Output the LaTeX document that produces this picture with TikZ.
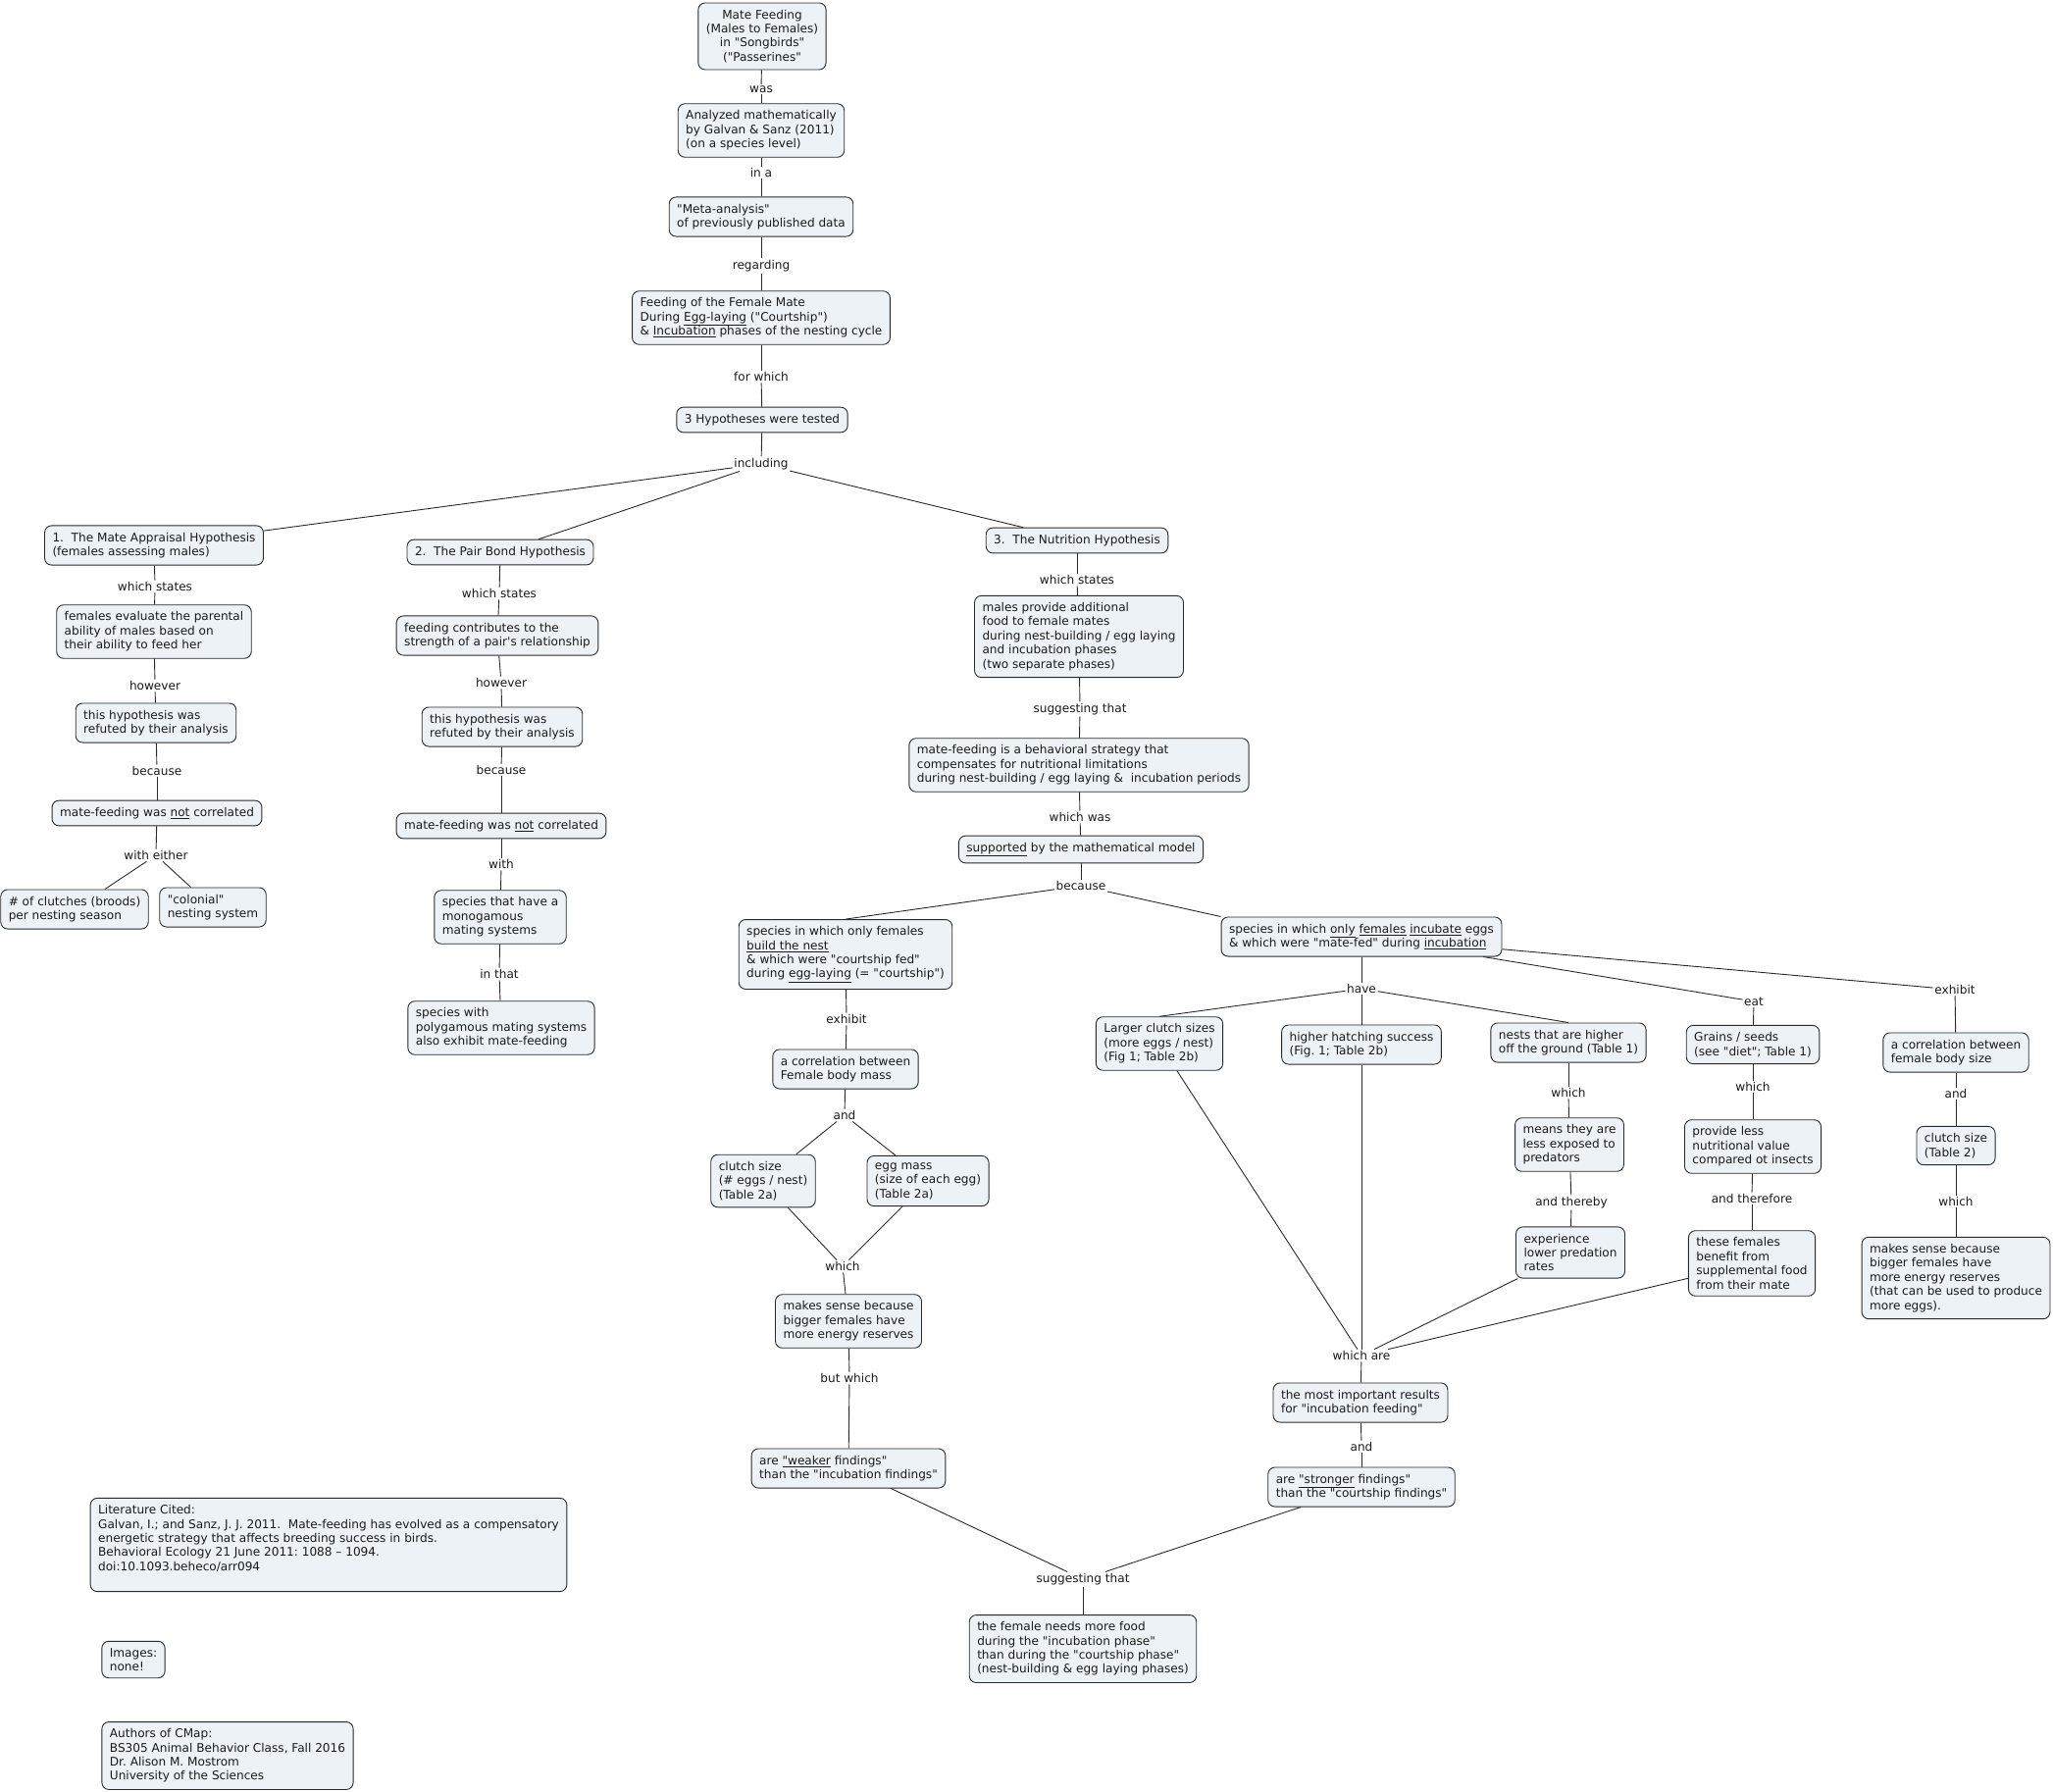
\documentclass[tikz,border=0pt]{standalone}
\usepackage{fontspec}
\setmainfont{DejaVu Sans}[Ligatures=TeXOff]
\usepackage{tikz}
\usetikzlibrary{positioning}
\frenchspacing
\definecolor{color_fill}{HTML}{ECF2F5}
\definecolor{color_line}{HTML}{2A2A2A}
\definecolor{color_text}{HTML}{1A1A1A}
\tikzset{
  concept_box/.style={draw=color_line, fill=color_fill, line width=0.9pt, rounded corners=7pt, align=left, inner xsep=8pt, inner ysep=7pt, font=\fontsize{12.1}{14.4}\selectfont, text=color_text},
  concept_centre/.style={concept_box, align=center},
  link_label/.style={inner sep=1.5pt, font=\fontsize{12.1}{14.4}\selectfont, text=color_text},
  map_line/.style={draw=color_line, line width=0.9pt},
}

\begin{document}
\begin{tikzpicture}[x=1pt, y=-1pt]
    \fill[white] (0,0) rectangle (2093,1827);
    \useasboundingbox (0,0) rectangle (2093,1827);
    % main stem
    \node[concept_centre] (feed_top) at (777,37) {Mate Feeding\\(Males to Females)\\in "Songbirds"\\("Passerines"};
    \node[concept_box] (analyzed) at (776,133) {Analyzed mathematically\\by Galvan \& Sanz (2011)\\(on a species level)};
    \node[concept_box] (meta) at (776,221) {"Meta-analysis"\\of previously published data};
    \node[concept_box] (phases) at (776,324) {Feeding of the Female Mate\\During \underline{Egg-laying} ("Courtship")\\\& \underline{Incubation} phases of the nesting cycle};
    \node[concept_box] (tested) at (777,428) {3 Hypotheses were tested};
    \node[link_label] (l_was) at (776,91) {was};
    \node[link_label] (l_ina) at (776,176) {in a};
    \node[link_label] (l_regarding) at (776,271) {regarding};
    \node[link_label] (l_forwhich) at (776,384) {for which};
    \node[link_label] (l_including) at (776,473) {including};
    % hypothesis 1
    \node[concept_box] (hyp_one) at (157,556) {1.\ \ The Mate Appraisal Hypothesis\\(females assessing males)};
    \node[concept_box] (hyp_one_state) at (157,644) {females evaluate the parental\\ability of males based on\\their ability to feed her};
    \node[concept_box] (hyp_one_refuted) at (159,737) {this hypothesis was\\refuted by their analysis};
    \node[concept_box] (hyp_one_notcorr) at (160,829) {mate-feeding was \underline{not} correlated};
    \node[concept_box] (clutches) at (76,927) {\# of clutches (broods)\\per nesting season};
    \node[concept_box] (colonial) at (217,925) {"colonial"\\nesting system};
    \node[link_label] (l_states_one) at (158,598) {which states};
    \node[link_label] (l_however_one) at (158,699) {however};
    \node[link_label] (l_because_one) at (160,786) {because};
    \node[link_label] (l_either) at (159,872) {with either};
    % hypothesis 2
    \node[concept_box] (hyp_two) at (510,563) {2.\ \ The Pair Bond Hypothesis};
    \node[concept_box] (hyp_two_state) at (507,648) {feeding contributes to the\\strength of a pair's relationship};
    \node[concept_box] (hyp_two_refuted) at (512,741) {this hypothesis was\\refuted by their analysis};
    \node[concept_box] (hyp_two_notcorr) at (511,842) {mate-feeding was \underline{not} correlated};
    \node[concept_box] (monogamous) at (510,935) {species that have a\\monogamous\\mating systems};
    \node[concept_box] (polygamous) at (511,1048) {species with\\polygamous mating systems\\also exhibit mate-feeding};
    \node[link_label] (l_states_two) at (509,605) {which states};
    \node[link_label] (l_however_two) at (511,696) {however};
    \node[link_label] (l_because_two) at (511,785) {because};
    \node[link_label] (l_with) at (511,881) {with};
    \node[link_label] (l_inthat) at (509,993) {in that};
    % hypothesis 3
    \node[concept_box] (hyp_three) at (1098,551) {3.\ \ The Nutrition Hypothesis};
    \node[concept_box] (hyp_three_state) at (1100,649) {males provide additional\\food to female mates\\during nest-building / egg laying\\and incubation phases\\(two separate phases)};
    \node[concept_box] (strategy) at (1100,780) {mate-feeding is a behavioral strategy that\\compensates for nutritional limitations\\during nest-building / egg laying \&\ \ incubation periods};
    \node[concept_box] (supported) at (1102,866) {\underline{supported} by the mathematical model};
    \node[link_label] (l_states_three) at (1098,591) {which states};
    \node[link_label] (l_suggesting) at (1101,723) {suggesting that};
    \node[link_label] (l_whichwas) at (1101,833) {which was};
    \node[link_label] (l_because_three) at (1102,903) {because};
    % courtship side
    \node[concept_box] (build_nest) at (862,973) {species in which only females\\\underline{build the nest}\\\& which were "courtship fed"\\during \underline{egg-laying} (= "courtship")};
    \node[concept_box] (corr_mass) at (862,1090) {a correlation between\\Female body mass};
    \node[concept_box] (clutch_size) at (778,1204) {clutch size\\(\# eggs / nest)\\(Table 2a)};
    \node[concept_box] (egg_mass) at (946,1204) {egg mass\\(size of each egg)\\(Table 2a)};
    \node[concept_box] (sense_left) at (865,1347) {makes sense because\\bigger females have\\more energy reserves};
    \node[concept_box] (weaker) at (865,1497) {are \underline{"weaker} findings"\\than the "incubation findings"};
    \node[link_label] (l_exhibit_left) at (863,1039) {exhibit};
    \node[link_label] (l_and_left) at (861,1137) {and};
    \node[link_label] (l_which_left) at (859,1291) {which};
    \node[link_label] (l_butwhich) at (866,1405) {but which};
    % incubation side
    \node[concept_box] (incubate) at (1388,955) {species in which \underline{only} \underline{females} \underline{incubate} eggs\\\& which were "mate-fed" during \underline{incubation}};
    \node[concept_box] (larger_clutch) at (1182,1064) {Larger clutch sizes\\(more eggs / nest)\\(Fig 1; Table 2b)};
    \node[concept_box] (hatching) at (1388,1065) {higher hatching success\\(Fig. 1; Table 2b)};
    \node[concept_box] (nests_high) at (1599,1063) {nests that are higher\\off the ground (Table 1)};
    \node[concept_box] (less_exposed) at (1600,1167) {means they are\\less exposed to\\predators};
    \node[concept_box] (lower_pred) at (1601,1277) {experience\\lower predation\\rates};
    \node[concept_box] (grains) at (1787,1065) {Grains / seeds\\(see "diet"; Table 1)};
    \node[concept_box] (less_value) at (1787,1169) {provide less\\nutritional value\\compared ot insects};
    \node[concept_box] (benefit) at (1786,1288) {these females\\benefit from\\supplemental food\\from their mate};
    \node[concept_box] (corr_size) at (1994,1073) {a correlation between\\female body size};
    \node[concept_box] (clutch_two) at (1994,1168) {clutch size\\(Table 2)};
    \node[concept_box] (sense_right) at (1994,1303) {makes sense because\\bigger females have\\more energy reserves\\(that can be used to produce\\more eggs).};
    \node[concept_box] (important) at (1387,1430) {the most important results\\for "incubation feeding"};
    \node[concept_box] (stronger) at (1388,1516) {are \underline{"stronger} findings"\\than the "courtship findings"};
    \node[concept_box] (needs_food) at (1104,1681) {the female needs more food\\during the "incubation phase"\\than during the "courtship phase"\\(nest-building \& egg laying phases)};
    \node[link_label] (l_have) at (1388,1008) {have};
    \node[link_label] (l_eat) at (1788,1021) {eat};
    \node[link_label] (l_exhibit_right) at (1993,1009) {exhibit};
    \node[link_label] (l_which_nests) at (1599,1114) {which};
    \node[link_label] (l_thereby) at (1602,1226) {and thereby};
    \node[link_label] (l_which_grains) at (1787,1108) {which};
    \node[link_label] (l_therefore) at (1786,1222) {and therefore};
    \node[link_label] (l_and_right) at (1994,1115) {and};
    \node[link_label] (l_which_right) at (1994,1225) {which};
    \node[link_label] (l_whichare) at (1388,1382) {which are};
    \node[link_label] (l_and_mid) at (1388,1475) {and};
    \node[link_label] (l_suggesting_bottom) at (1104,1610) {suggesting that};
    % notes
    \node[concept_box] (literature) at (335,1575) {Literature Cited:\\Galvan, I.; and Sanz, J. J. 2011.\ \ Mate-feeding has evolved as a compensatory\\energetic strategy that affects breeding success in birds.\\Behavioral Ecology 21 June 2011: 1088 – 1094.\\doi:10.1093.beheco/arr094\\\mbox{}};
    \node[concept_box] (images) at (136,1692) {Images:\\none!};
    \node[concept_box] (authors) at (232,1790) {Authors of CMap:\\BS305 Animal Behavior Class, Fall 2016\\Dr. Alison M. Mostrom\\University of the Sciences};
    % connectors
    \draw[map_line] (feed_top) -- (l_was); \draw[map_line] (l_was) -- (analyzed);
    \draw[map_line] (analyzed) -- (l_ina); \draw[map_line] (l_ina) -- (meta);
    \draw[map_line] (meta) -- (l_regarding); \draw[map_line] (l_regarding) -- (phases);
    \draw[map_line] (phases) -- (l_forwhich); \draw[map_line] (l_forwhich) -- (tested);
    \draw[map_line] (tested) -- (l_including);
    \draw[map_line] (l_including) -- (hyp_one);
    \draw[map_line] (l_including) -- (hyp_two);
    \draw[map_line] (l_including) -- (hyp_three);
    \draw[map_line] (hyp_one) -- (l_states_one); \draw[map_line] (l_states_one) -- (hyp_one_state);
    \draw[map_line] (hyp_one_state) -- (l_however_one); \draw[map_line] (l_however_one) -- (hyp_one_refuted);
    \draw[map_line] (hyp_one_refuted) -- (l_because_one); \draw[map_line] (l_because_one) -- (hyp_one_notcorr);
    \draw[map_line] (hyp_one_notcorr) -- (l_either);
    \draw[map_line] (l_either) -- (clutches); \draw[map_line] (l_either) -- (colonial);
    \draw[map_line] (hyp_two) -- (l_states_two); \draw[map_line] (l_states_two) -- (hyp_two_state);
    \draw[map_line] (hyp_two_state) -- (l_however_two); \draw[map_line] (l_however_two) -- (hyp_two_refuted);
    \draw[map_line] (hyp_two_refuted) -- (l_because_two); \draw[map_line] (l_because_two) -- (hyp_two_notcorr);
    \draw[map_line] (hyp_two_notcorr) -- (l_with); \draw[map_line] (l_with) -- (monogamous);
    \draw[map_line] (monogamous) -- (l_inthat); \draw[map_line] (l_inthat) -- (polygamous);
    \draw[map_line] (hyp_three) -- (l_states_three); \draw[map_line] (l_states_three) -- (hyp_three_state);
    \draw[map_line] (hyp_three_state) -- (l_suggesting); \draw[map_line] (l_suggesting) -- (strategy);
    \draw[map_line] (strategy) -- (l_whichwas); \draw[map_line] (l_whichwas) -- (supported);
    \draw[map_line] (supported) -- (l_because_three);
    \draw[map_line] (l_because_three) -- (build_nest.north);
    \draw[map_line] (l_because_three) -- (incubate.north west);
    \draw[map_line] (build_nest) -- (l_exhibit_left); \draw[map_line] (l_exhibit_left) -- (corr_mass);
    \draw[map_line] (corr_mass) -- (l_and_left);
    \draw[map_line] (l_and_left) -- (clutch_size); \draw[map_line] (l_and_left) -- (egg_mass);
    \draw[map_line] (clutch_size) -- (l_which_left); \draw[map_line] (egg_mass) -- (l_which_left);
    \draw[map_line] (l_which_left) -- (sense_left);
    \draw[map_line] (sense_left) -- (l_butwhich); \draw[map_line] (l_butwhich) -- (weaker);
    \draw[map_line] (incubate) -- (l_have);
    \draw[map_line] (l_have) -- (larger_clutch.north);
    \draw[map_line] (l_have) -- (hatching);
    \draw[map_line] (l_have) -- (nests_high.north);
    \draw[map_line] (incubate) -- (l_eat); \draw[map_line] (l_eat) -- (grains);
    \draw[map_line] (incubate) -- (l_exhibit_right); \draw[map_line] (l_exhibit_right) -- (corr_size);
    \draw[map_line] (nests_high) -- (l_which_nests); \draw[map_line] (l_which_nests) -- (less_exposed);
    \draw[map_line] (less_exposed) -- (l_thereby); \draw[map_line] (l_thereby) -- (lower_pred);
    \draw[map_line] (grains) -- (l_which_grains); \draw[map_line] (l_which_grains) -- (less_value);
    \draw[map_line] (less_value) -- (l_therefore); \draw[map_line] (l_therefore) -- (benefit);
    \draw[map_line] (corr_size) -- (l_and_right); \draw[map_line] (l_and_right) -- (clutch_two);
    \draw[map_line] (clutch_two) -- (l_which_right); \draw[map_line] (l_which_right) -- (sense_right);
    \draw[map_line] (larger_clutch) -- (l_whichare);
    \draw[map_line] (hatching) -- (l_whichare);
    \draw[map_line] (lower_pred) -- (l_whichare);
    \draw[map_line] (benefit) -- (l_whichare);
    \draw[map_line] (l_whichare) -- (important);
    \draw[map_line] (important) -- (l_and_mid); \draw[map_line] (l_and_mid) -- (stronger);
    \draw[map_line] (weaker) -- (l_suggesting_bottom);
    \draw[map_line] (stronger) -- (l_suggesting_bottom);
    \draw[map_line] (l_suggesting_bottom) -- (needs_food);
\end{tikzpicture}
\end{document}
